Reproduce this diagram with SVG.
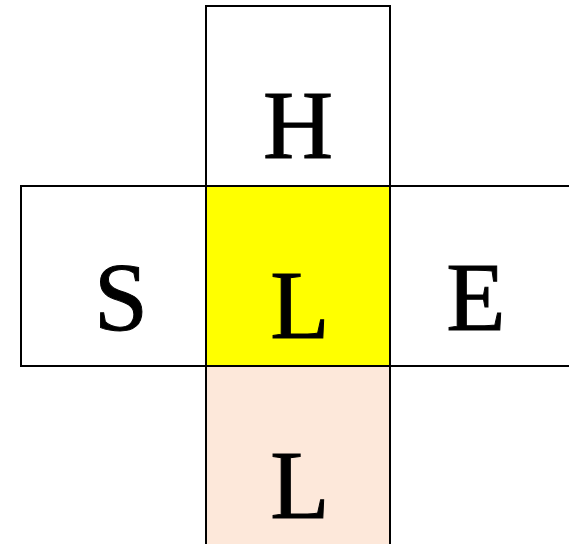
<svg xmlns="http://www.w3.org/2000/svg" width="569" height="544" viewBox="0 0 569 544">
<style>
.box{stroke:#000;stroke-width:2}
</style>
<rect width="569" height="544" fill="#fff"/>
<g id="top"><rect class="box" x="206" y="6" width="184" height="180" fill="#fff"/></g>
<g id="left"><rect class="box" x="21" y="186" width="185" height="180" fill="#fff"/></g>
<g id="right"><rect class="box" x="390" y="186" width="185" height="180" fill="#fff"/></g>
<g id="center"><rect class="box" x="206" y="186" width="184" height="180" fill="#ffff00"/></g>
<g id="bottom"><rect class="box" x="206" y="366" width="184" height="190" fill="#fde8da"/></g>
<g id="labels" font-family="Liberation Serif, Times New Roman, serif" font-size="97" text-anchor="middle" fill="#000" stroke="#000" stroke-width="1">
<text x="298" y="158">H</text>
<text x="121" y="330">S</text>
<text x="476" y="330">E</text>
<text x="300" y="338">L</text>
<text x="300" y="518">L</text>
</g>
<g id="connectors"></g>
</svg>
